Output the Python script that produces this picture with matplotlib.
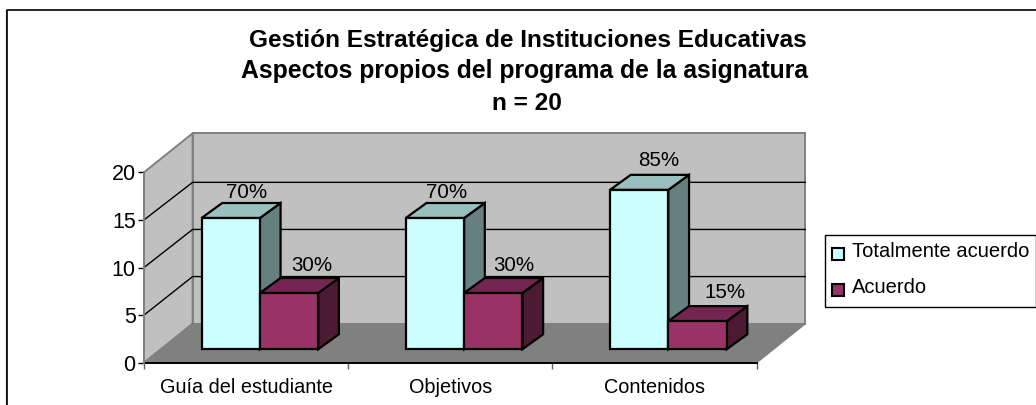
import matplotlib
matplotlib.use("Agg")
import matplotlib.pyplot as plt
from matplotlib.patches import Polygon, Rectangle
from matplotlib.lines import Line2D

categories = ["Guía del estudiante", "Objetivos", "Contenidos"]
series_names = ["Totalmente acuerdo", "Acuerdo"]
totalmente = [14, 14, 17]
acuerdo = [6, 6, 3]
labels_totalmente = ["70%", "70%", "85%"]
labels_acuerdo = ["30%", "30%", "15%"]
y_ticks = [0, 5, 10, 15, 20]
title_lines = ["Gestión Estratégica de Instituciones Educativas",
               "Aspectos propios del programa de la asignatura",
               "n = 20"]

W, H = 1036, 405
plt.rcParams['font.family'] = ['Liberation Sans', 'DejaVu Sans']
fig = plt.figure(figsize=(W / 100, H / 100), dpi=100)
fig.patch.set_facecolor("white")

# outer frame
fig.add_artist(Line2D([5.5 / W, 5.5 / W], [0, 1 - 9.5 / H], transform=fig.transFigure, color="#808080", lw=0.9))
fig.add_artist(Line2D([6.5 / W, 6.5 / W, 1], [0, 1 - 9.5 / H, 1 - 9.5 / H], transform=fig.transFigure,
                      color="black", lw=1.2))

L, R, T, B = 144, 756.7, 172.3, 362.7
ax = fig.add_axes([L / W, 1 - B / H, (R - L) / W, (B - T) / H])
ax.set_xlim(0, 3)
ax.set_ylim(0, 20)
ax.patch.set_visible(False)
for s in ax.spines.values():
    s.set_visible(False)

DX = 48.6 / ((R - L) / 3)   # depth offset in category units
DY = 39.0 / ((B - T) / 20)  # depth offset in value units

def P(x, y, dx=0.0, dy=None):
    return (x + dx * DX, y + (dx if dy is None else dy) * DY)

def poly(pts, fc, ec="black", lw=1.6, z=2):
    ax.add_patch(Polygon(pts, closed=True, fc=fc, ec=ec, lw=lw, zorder=z, clip_on=False,
                         joinstyle="miter"))

# walls and floor
WALL_SCALE = 0.99
poly([P(0, 0, 1), P(3, 0, 1), P(3, 20, 1), P(0, 20, 1)], "#C0C0C0", "#808080", 1.4, 1)
poly([P(0, 0), P(0, 0, 1), P(0, 20, 1), P(0, 20)], "#C0C0C0", "#808080", 1.4, 1)
poly([P(0, 0), P(3, 0), P(3, 0, 1), P(0, 0, 1)], "#808080", "#808080", 1, 1)
for v in y_ticks[1:-1]:
    xs, ys = zip(P(0, v), P(0, v * WALL_SCALE, 1), P(3, v * WALL_SCALE, 1))
    ax.plot(xs, ys, color="black", lw=1, zorder=1.5, clip_on=False)
ax.plot([0, 3], [0, 0], color="black", lw=1.4, zorder=1.6, clip_on=False)
ax.plot([0, 0], [0, 20], color="#808080", lw=1.4, zorder=1.6, clip_on=False)

BAR_W = 0.2855
BAR_X0 = 0.2
D0 = 0.344
DEPTH_X, DEPTH_Y = 0.426, 0.385
BAR_SCALE = 0.985   # bars stand further back than the front scale

def bar3d(x0, v, front, top, side):
    x1 = x0 + BAR_W
    h = v * BAR_SCALE
    d1x, d1y = D0 + DEPTH_X, D0 + DEPTH_Y
    poly([P(x1, 0, D0), P(x1, 0, d1x, d1y), P(x1, h, d1x, d1y), P(x1, h, D0)], side, z=3)
    poly([P(x0, h, D0), P(x1, h, D0), P(x1, h, d1x, d1y), P(x0, h, d1x, d1y)], top, z=3)
    poly([P(x0, 0, D0), P(x1, 0, D0), P(x1, h, D0), P(x0, h, D0)], front, z=3)

# label nudges, px from the centre of the bar's back top edge
nudge_totalmente = [(-4.7, 5), (-8.7, 5), (-1, 8.5)]
nudge_acuerdo = [(2.5, 7), (0, 7), (7, 8.5)]

palette = [("#CCFFFF", "#99BFBF", "#668080"), ("#993366", "#732650", "#4D1A33")]
for i in range(len(categories)):
    bar3d(i + BAR_X0, totalmente[i], *palette[0])
    bar3d(i + BAR_X0 + BAR_W, acuerdo[i], *palette[1])
    for off, val, lab, (nx, ny) in ((0, totalmente[i], labels_totalmente[i], nudge_totalmente[i]),
                                    (BAR_W, acuerdo[i], labels_acuerdo[i], nudge_acuerdo[i])):
        x, y = P(i + BAR_X0 + off + BAR_W / 2, val * BAR_SCALE, D0 + DEPTH_X, D0 + DEPTH_Y)
        ax.annotate(lab, (x, y), xytext=(nx * 0.72, ny * 0.72), textcoords="offset points",
                    ha="center", va="baseline", fontsize=14.8, color="black", zorder=5,
                    annotation_clip=False)

# axes ticks
ax.set_yticks(y_ticks)
ax.set_yticklabels([str(v) for v in y_ticks], fontsize=15.5)
ax.set_xticks(range(len(categories) + 1))
ax.set_xticklabels([""] * (len(categories) + 1))
ax.set_xticks([i + 0.5 for i in range(len(categories))], labels=categories, minor=True, fontsize=14.3)
ax.tick_params(axis="x", which="major", length=4, width=1, color="#606060", pad=3)
ax.tick_params(axis="x", which="minor", length=0, pad=11)
ax.tick_params(axis="y", length=4, width=1, color="black", pad=2)

# title
for line, yy, xc, fs in zip(title_lines, (46.7, 78, 109.5), (527.5, 524.7, 527), (17.6, 17.85, 17.6)):
    fig.text(xc / W, 1 - yy / H, line, ha="center", va="baseline", fontsize=fs, fontweight="bold",
             color="black")

# legend
fig.add_artist(Rectangle((824.5 / W, 1 - 306.5 / H), 211 / W, 71.5 / H, transform=fig.transFigure,
                         fc="white", ec="black", lw=1))
for yy, ty, col, name in ((254, 251.7, palette[0][0], series_names[0]),
                          (289.5, 287.7, palette[1][0], series_names[1])):
    fig.add_artist(Rectangle((832 / W, 1 - (yy + 6) / H), 12 / W, 12 / H, transform=fig.transFigure,
                             fc=col, ec="black", lw=1.5))
    fig.text(851.7 / W, 1 - ty / H, name, ha="left", va="center", fontsize=14.5, color="black")

fig.savefig("out.png", dpi=100)
